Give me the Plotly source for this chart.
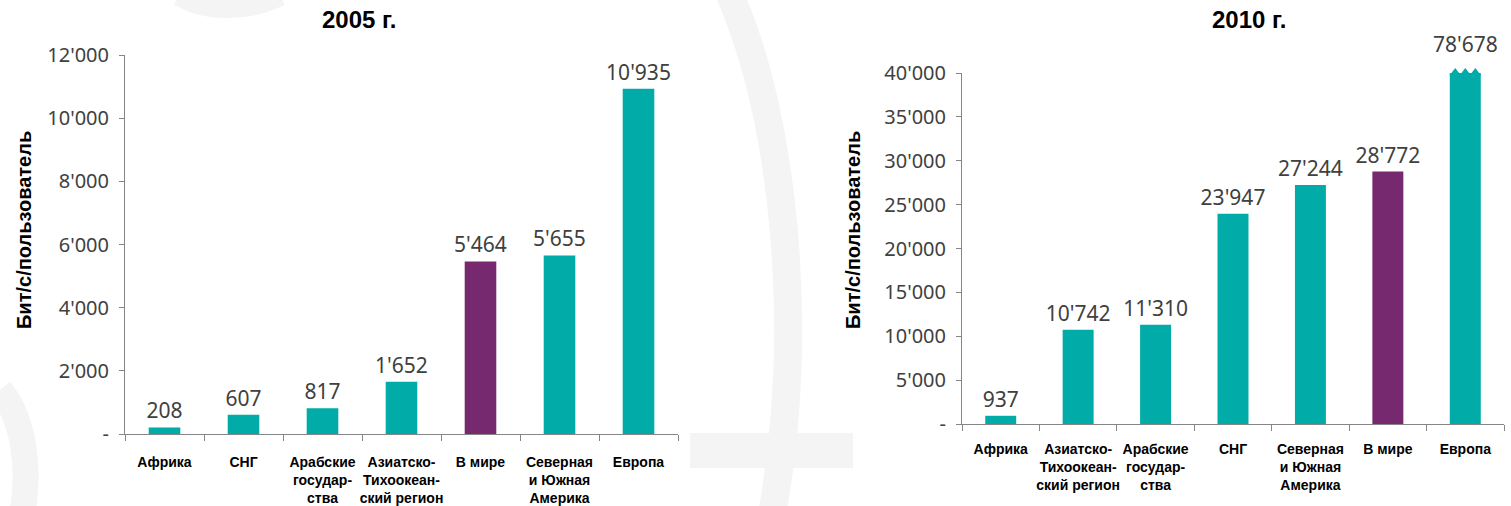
import plotly.graph_objects as go

# ---------------- data ----------------
cats_2005 = ["Африка", "СНГ", "Арабские<br>государ-<br>ства", "Азиатско-<br>Тихоокеан-<br>ский регион",
             "В мире", "Северная<br>и Южная<br>Америка", "Европа"]
vals_2005 = [208, 607, 817, 1652, 5464, 5655, 10935]

cats_2010 = ["Африка", "Азиатско-<br>Тихоокеан-<br>ский регион", "Арабские<br>государ-<br>ства", "СНГ",
             "Северная<br>и Южная<br>Америка", "В мире", "Европа"]
vals_2010 = [937, 10742, 11310, 23947, 27244, 28772, 78678]

yticks_2005 = [0, 2000, 4000, 6000, 8000, 10000, 12000]
yticks_2010 = [0, 5000, 10000, 15000, 20000, 25000, 30000, 35000, 40000]
axis_max_2005 = 12000
axis_max_2010 = 40000          # axis is broken above this value
highlight = "В мире"
titles = ["2005 г.", "2010 г."]
ytitle = "Бит/с/пользователь"

# ---------------- style ----------------
W, H = 1511, 506
TEAL = "#00ABA8"
PURPLE = "#76296F"
AXIS = "#868686"
NUM_FONT = dict(family="Noto Sans, Open Sans, sans-serif", size=20, color="#404040")
VAL_FONT = dict(family="Noto Sans, Open Sans, sans-serif", size=21, color="#404040")
CAT_FONT = dict(family="Liberation Sans, Arial, sans-serif", size=14, color="#000000", weight="bold")
BOLD = "Liberation Sans, Arial, sans-serif"


def fmt(v):
    return f"{v:,}".replace(",", "'")


def tick_text(vals):
    return ["-" if v == 0 else fmt(v) for v in vals]


def px_x(x):
    return x / W


def px_y(y):
    return 1 - y / H


fig = go.Figure()

panels = [
    dict(cats=cats_2005, vals=vals_2005, yt=yticks_2005, ymax=axis_max_2005,
         xa="x", ya="y", xdom=(125, 678), ydom=(434, 55), standoff=15),
    dict(cats=cats_2010, vals=vals_2010, yt=yticks_2010, ymax=axis_max_2010,
         xa="x2", ya="y2", xdom=(962, 1504), ydom=(424, 73), standoff=12),
]

annotations = []
for k, p in enumerate(panels):
    pos = list(range(len(p["cats"])))
    shown = [min(v, p["ymax"]) for v in p["vals"]]
    cut = [v > p["ymax"] for v in p["vals"]]
    colors = [PURPLE if c == highlight else TEAL for c in p["cats"]]
    fig.add_trace(go.Bar(
        x=pos, y=shown, xaxis=p["xa"], yaxis=p["ya"],
        marker=dict(color=colors, line=dict(width=0)), width=0.4,
        text=[fmt(v) for v in p["vals"]],
        textposition=["none" if c else "outside" for c in cut],
        textfont=VAL_FONT, constraintext="none", cliponaxis=False,
        hoverinfo="skip", showlegend=False,
    ))
    # zigzag break marks + label for truncated bars
    for i, c in enumerate(cut):
        if c:
            fig.add_trace(go.Scatter(
                x=[pos[i] - 0.13, pos[i], pos[i] + 0.13], y=[p["ymax"]] * 3,
                xaxis=p["xa"], yaxis=p["ya"], mode="markers",
                marker=dict(symbol="triangle-up", size=10, color=colors[i], line=dict(width=0)),
                cliponaxis=False, hoverinfo="skip", showlegend=False,
            ))
            annotations.append(dict(
                x=pos[i], y=p["ymax"], xref=p["xa"], yref=p["ya"], text=fmt(p["vals"][i]),
                showarrow=False, yanchor="middle", yshift=29, font=VAL_FONT,
            ))
    boundaries = [i - 0.5 for i in range(len(p["cats"]) + 1)]
    xkey = "xaxis" if k == 0 else "xaxis2"
    ykey = "yaxis" if k == 0 else "yaxis2"
    fig.update_layout(**{
        xkey: dict(
            domain=[px_x(p["xdom"][0]), px_x(p["xdom"][1])],
            range=[-0.5, len(p["cats"]) - 0.5], automargin=False,
            tickmode="array", tickvals=pos, ticktext=p["cats"], ticks="",
            tickfont=CAT_FONT, showline=True, linecolor=AXIS, linewidth=1,
            showgrid=False, zeroline=False, fixedrange=True, anchor=p["ya"],
            ticklabelstandoff=p["standoff"],
            minor=dict(tickmode="array", tickvals=boundaries, ticks="outside",
                       ticklen=6, tickcolor=AXIS, tickwidth=1, showgrid=False),
        ),
        ykey: dict(
            domain=[px_y(p["ydom"][0]), px_y(p["ydom"][1])],
            range=[0, p["ymax"]], tickmode="array", tickvals=p["yt"], automargin=False,
            ticktext=tick_text(p["yt"]), ticks="outside", ticklen=5,
            tickcolor=AXIS, tickwidth=1, tickfont=NUM_FONT,
            showline=True, linecolor=AXIS, linewidth=1, showgrid=False,
            zeroline=False, fixedrange=True, anchor=p["xa"], ticklabelstandoff=6,
        ),
    })

# titles and axis titles
for tx, t in zip([359, 1249], titles):
    annotations.append(dict(x=px_x(tx), y=px_y(20), xref="paper", yref="paper",
                            text=f"<b>{t}</b>", showarrow=False,
                            font=dict(family=BOLD, size=24, color="#000000"),
                            xanchor="center", yanchor="middle"))
for ax_x in [24, 853]:
    annotations.append(dict(x=px_x(ax_x), y=px_y(230), xref="paper", yref="paper",
                            text=f"<b>{ytitle}</b>", showarrow=False, textangle=-90,
                            font=dict(family=BOLD, size=20, color="#000000"),
                            xanchor="center", yanchor="middle"))

# faint background watermark (decorative)
WM = "#F4F4F4"


def P(x, y):
    return f"{px_x(x):.4f},{px_y(y):.4f}"


shapes = [
    dict(type="path", xref="paper", yref="paper", layer="below",
         path=f"M {P(730, -5)} C {P(785, 120)} {P(805, 330)} {P(772, 515)}",
         line=dict(color=WM, width=28)),
    dict(type="rect", xref="paper", yref="paper", layer="below",
         x0=px_x(690), x1=px_x(853), y0=px_y(468), y1=px_y(433),
         fillcolor=WM, line=dict(width=0)),
    dict(type="path", xref="paper", yref="paper", layer="below",
         path=f"M {P(0, 390)} C {P(25, 420)} {P(30, 470)} {P(22, 515)}",
         line=dict(color=WM, width=26)),
    dict(type="path", xref="paper", yref="paper", layer="below",
         path=f"M {P(180, -5)} C {P(200, 8)} {P(240, 14)} {P(280, -5)}",
         line=dict(color=WM, width=22)),
]

fig.update_layout(
    width=W, height=H, margin=dict(l=0, r=0, t=0, b=0, autoexpand=False),
    paper_bgcolor="white", plot_bgcolor="rgba(0,0,0,0)",
    bargap=0.6, showlegend=False, annotations=annotations, shapes=shapes,
    separators=".'",
)

fig.write_html("out.html", config={"displayModeBar": False},
               post_script="document.body.style.margin='0px';")
